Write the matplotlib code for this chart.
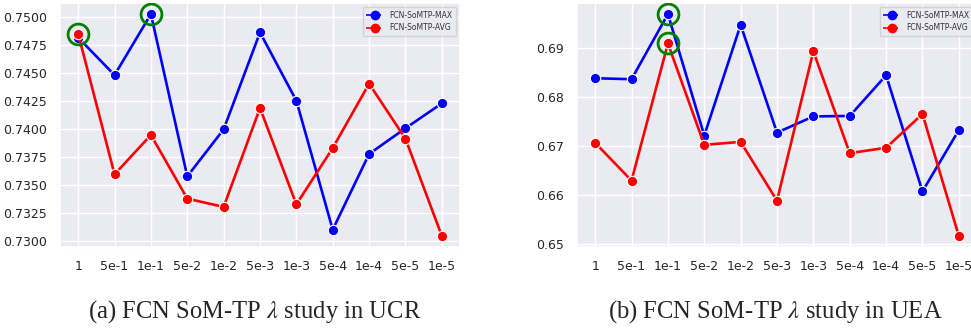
import matplotlib
matplotlib.use("Agg")
import matplotlib.pyplot as plt
from matplotlib.lines import Line2D
import seaborn as sns

lambdas = ["1", "5e-1", "1e-1", "5e-2", "1e-2", "5e-3", "1e-3", "5e-4", "1e-4", "5e-5", "1e-5"]

ucr_max = [0.7482, 0.74485, 0.7503, 0.7358, 0.7400, 0.74866, 0.74256, 0.73104, 0.7378, 0.7401, 0.74232]
ucr_avg = [0.74854, 0.73598, 0.7395, 0.73381, 0.73307, 0.7419, 0.7333, 0.73833, 0.74408, 0.73917, 0.73048]

uea_max = [0.6839, 0.6837, 0.6970, 0.6722, 0.6948, 0.6728, 0.6761, 0.6762, 0.6845, 0.6608, 0.6733]
uea_avg = [0.6707, 0.6630, 0.6910, 0.6703, 0.6709, 0.6589, 0.6894, 0.6686, 0.6697, 0.6766, 0.6517]

ucr_best = [(0, 0.74854), (2, 0.7503)]
uea_best = [(2, 0.6970), (2, 0.6910)]

captions = [r"(a) FCN SoM-TP $\lambda$ study in UCR", r"(b) FCN SoM-TP $\lambda$ study in UEA"]
series_names = ["FCN-SoMTP-MAX", "FCN-SoMTP-AVG"]

sns.set_theme(style="darkgrid")
plt.rcParams["font.family"] = ["DejaVu Sans"]
plt.rcParams["mathtext.fontset"] = "stix"

fig = plt.figure(figsize=(9.71, 3.29), dpi=100)
ax1 = fig.add_axes([60 / 971, 1 - 247 / 329, 400 / 971, 244 / 329])
ax2 = fig.add_axes([577 / 971, 1 - 247 / 329, 400 / 971, 244 / 329])

def draw(ax, vmax, vavg, best, fmt):
    x = list(range(len(lambdas)))
    ax.plot(x, vmax, color="blue", lw=1.9, marker="o", ms=7.5, mec="white", mew=0.8, zorder=3)
    ax.plot(x, vavg, color="red", lw=1.9, marker="o", ms=7.5, mec="white", mew=0.8, zorder=3)
    for bx, by in best:
        ax.plot([bx], [by], marker="o", ms=15, mfc="none", mec="green", mew=2, ls="none", zorder=4)
    ax.set_xticks(x)
    ax.set_xticklabels(lambdas)
    ax.yaxis.set_major_formatter(matplotlib.ticker.FormatStrFormatter(fmt))
    ax.tick_params(labelsize=9, colors="#262626")
    handles = [
        Line2D([], [], color="blue", ls="--", marker="o", ms=6, lw=1.2),
        Line2D([], [], color="red", ls="--", marker="o", ms=6, lw=1.2),
    ]
    leg = ax.legend(handles, series_names, loc="upper right", fontsize=5.5, handlelength=2.2,
                    framealpha=0.8, borderpad=0.5)
    for t in leg.get_texts():
        t.set_color("#333333")

draw(ax1, ucr_max, ucr_avg, ucr_best, "%.4f")
ax1.set_yticks([0.7300, 0.7325, 0.7350, 0.7375, 0.7400, 0.7425, 0.7450, 0.7475, 0.7500])
draw(ax2, uea_max, uea_avg, uea_best, "%.2f")
ax2.set_yticks([0.65, 0.66, 0.67, 0.68, 0.69])

fig.text(255 / 971, 1 - 318 / 329, captions[0], ha="center", va="baseline", fontsize=17.7,
         family="Liberation Serif")
fig.text(775 / 971, 1 - 318 / 329, captions[1], ha="center", va="baseline", fontsize=17.7,
         family="Liberation Serif")

fig.savefig("out.png", dpi=100)
